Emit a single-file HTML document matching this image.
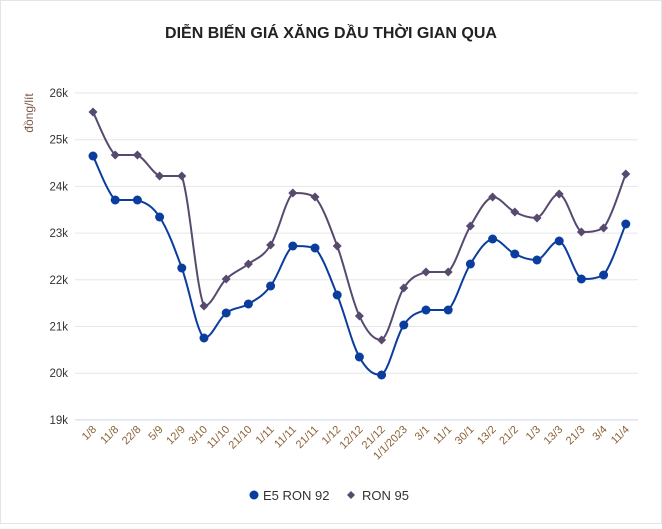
<!DOCTYPE html>
<html><head><meta charset="utf-8"><style>
html,body{margin:0;padding:0;background:#fff;}
body{width:662px;height:524px;overflow:hidden;font-family:"Liberation Sans",sans-serif;}
</style></head><body>
<svg id="s" width="662" height="524" xmlns="http://www.w3.org/2000/svg" font-family="Liberation Sans, sans-serif">
<rect x="0.5" y="0.5" width="661" height="523" fill="#fff" stroke="#e4e4e4"/>
<text x="331" y="38" text-anchor="middle" font-size="16" font-weight="bold" fill="#222">DIỄN BIẾN GIÁ XĂNG DẦU THỜI GIAN QUA</text>
<text transform="translate(33,113) rotate(-90)" text-anchor="middle" font-size="12" fill="#7a5a4a">đồng/lít</text>
<g id="grid"></g>
<g id="series"></g>
<g font-size="13" fill="#333">
<circle cx="254" cy="495" r="4.5" fill="#0b3d9e"/>
<text x="263" y="500">E5 RON 92</text>
<path d="M351 491 L355 495 L351 499 L347 495Z" fill="#574a6e"/>
<text x="362" y="500">RON 95</text>
</g>
</svg>
<script>
var ns="http://www.w3.org/2000/svg";
function el(t,a,p){var e=document.createElementNS(ns,t);for(var k in a)e.setAttribute(k,a[k]);p.appendChild(e);return e;}
var g=document.getElementById('grid'),S=document.getElementById('series');
for(var i=0;i<8;i++){var y=93+i*46.7;el('line',{x1:75,x2:638,y1:y,y2:y,stroke:i==7?'#cfd3ea':'#e6e6e6','stroke-width':1},g);
var t=el('text',{x:68,y:y+4,'text-anchor':'end','font-size':11.5,fill:'#333'},g);t.textContent=(26-i)+'k';}
var labs=["1/8","11/8","22/8","5/9","12/9","3/10","11/10","21/10","1/11","11/11","21/11","1/12","12/12","21/12","1/1/2023","3/1","11/1","30/1","13/2","21/2","1/3","13/3","21/3","3/4","11/4"];
var X=function(i){return 93+i*22.2;};
labs.forEach(function(l,i){var t=el('text',{transform:'translate('+(X(i)+4)+',430) rotate(-45)','text-anchor':'end','font-size':11,fill:'#8a6236'},g);t.textContent=l;});
var e5=[156,200,200,217,268,338,313,304,286,246,248,295,357,375,325,310,310,264,239,254,260,241,279,275,224];
var r95=[112,155,155,176,176,306,279,264,245,193,197,246,316,340,288,272,272,226,197,212,218,194,232,228,174];
function cl(v,a,b){var lo=Math.min(a,b),hi=Math.max(a,b);return Math.max(lo,Math.min(hi,v));}
function path(v){var p=v.map(function(y,i){return[X(i),y];});var d='M'+p[0][0]+' '+p[0][1];var tn=0.18;
for(var i=0;i<p.length-1;i++){var p0=p[i-1]||p[i],p1=p[i],p2=p[i+1],p3=p[i+2]||p2;
var c1y=cl(p1[1]+(p2[1]-p0[1])*tn,p1[1],p2[1]),c2y=cl(p2[1]-(p3[1]-p1[1])*tn,p1[1],p2[1]);
d+=' C'+(p1[0]+(p2[0]-p0[0])*tn)+' '+c1y+' '+(p2[0]-(p3[0]-p1[0])*tn)+' '+c2y+' '+p2[0]+' '+p2[1];}
return d;}
el('path',{d:path(r95),fill:'none',stroke:'#574a6e','stroke-width':2},S);
el('path',{d:path(e5),fill:'none',stroke:'#0b3d9e','stroke-width':2},S);
r95.forEach(function(y,i){var x=X(i);el('path',{d:'M'+x+' '+(y-4.5)+'L'+(x+4.5)+' '+y+'L'+x+' '+(y+4.5)+'L'+(x-4.5)+' '+y+'Z',fill:'#574a6e'},S);});
e5.forEach(function(y,i){el('circle',{cx:X(i),cy:y,r:4.5,fill:'#0b3d9e'},S);});
</script>
</body></html>
